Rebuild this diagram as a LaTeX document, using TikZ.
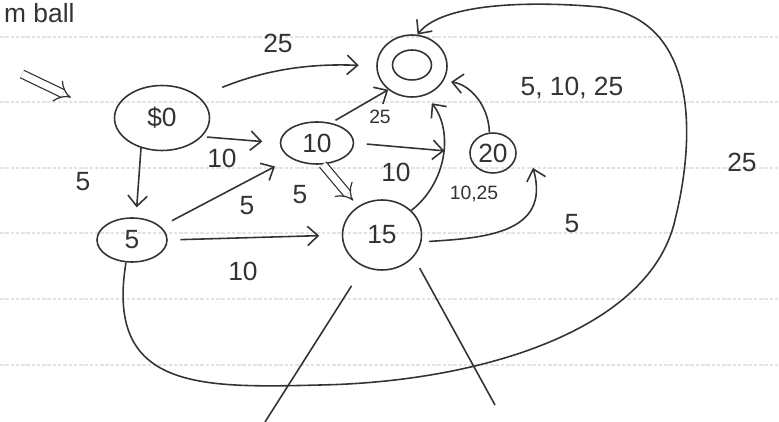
\documentclass[tikz,border=0pt]{standalone}
\usepackage{fontspec}
\setmainfont{Liberation Sans}
\usetikzlibrary{shapes,arrows.meta,positioning}

\begin{document}
\begin{tikzpicture}[
  x=0.02cm, y=-0.02cm,
  state/.style={ellipse, draw=black!80, line width=0.9pt, inner sep=0pt, font=\fontsize{15}{18}\selectfont, text=black!80},
  accept_state/.style={ellipse, draw=black!80, line width=0.9pt, inner sep=0pt},
  arrow/.style={-{Straight Barb[length=6pt,width=11pt]}, draw=black!80, line width=0.9pt},
  double_arrow/.style={-{Implies}, draw=black!80, double, double distance=4pt, line width=0.7pt},
  edge_label/.style={font=\fontsize{15}{18}\selectfont, text=black!80},
  small_label/.style={font=\fontsize{11}{13}\selectfont, text=black!80},
  paper_line/.style={draw=gray!22, line width=0.6pt, dash pattern=on 2pt off 1pt}
]
\useasboundingbox (0,0) rectangle (779,422);

% Ruled paper
\foreach \y in {37,102,168,233,299,365}
  \draw[paper_line] (0,\y) -- (779,\y);

% Title (cut off)
\node[edge_label, anchor=west] (title) at (-2,13) {m ball};

% States
\node[state, minimum width=1.9cm, minimum height=1.3cm] (s0) at (162,118) {\$0};
\node[state, minimum width=1.46cm, minimum height=0.84cm] (s10) at (317,143) {10};
\node[state, minimum width=1.4cm, minimum height=0.88cm] (s5) at (132,240) {5};
\node[state, minimum width=1.58cm, minimum height=1.4cm] (s15) at (382,235) {15};
\node[state, minimum width=0.92cm, minimum height=0.8cm] (s20) at (493,153) {20};
\node[accept_state, minimum width=1.4cm, minimum height=1.24cm] (acc) at (412,66) {};
\node[accept_state, minimum width=0.78cm, minimum height=0.6cm] (acc_in) at (412,65) {};

% Start arrow
\coordinate (start) at (22,74);
\draw[double_arrow, shorten >=0.95cm] (start) -- (s0.west);

% Transitions from $0
\draw[arrow, shorten >=0.2cm] (s0.-125) -- (s5.80);
\draw[arrow, shorten <=0.1cm, shorten >=0.35cm] (s0.-25) -- (s10.west);
\draw[arrow, shorten <=0.5cm, shorten >=0.35cm] (s0.30) to[bend left=12] (acc.west);

% Transitions from 5
\draw[arrow, shorten <=0.25cm, shorten >=0.35cm] (s5.25) -- (s10.-150);
\draw[arrow, shorten <=0.25cm, shorten >=0.45cm] (s5.east) -- (s15.west);
\draw[arrow] (s5.-105) .. controls (105,390) and (200,388) .. (320,385)
  .. controls (480,382) and (650,330) .. (675,220)
  .. controls (695,140) and (700,20) .. (600,7)
  .. controls (520,0) and (440,5) .. (acc.80);

% Transitions from 10
\draw[arrow, shorten <=0.1cm] (s10.55) -- (acc.-135);
\draw[arrow, shorten <=0.25cm, shorten >=0.5cm] (s10.east) -- (s20.west);
\draw[double_arrow, shorten >=0.15cm] (s10.-75) -- (s15.130);

% Transitions from 15
\draw[arrow, shorten >=0.2cm] (s15.40) to[bend right=45] (acc.-65);
\draw[arrow, shorten <=0.15cm] (s15.-10) .. controls (480,238) and (552,235)
  .. ([xshift=0.8cm, yshift=-0.3cm]s20.center);

% Transition from 20
\draw[arrow, shorten >=0.15cm] (s20.100) to[bend right=40] (acc.-25);

% Lines below 15
\coordinate (leg_l) at (265,422);
\coordinate (leg_r) at (495,405);
\draw[draw=black!80, line width=0.9pt, shorten <=0.45cm] (s15.-120) -- (leg_l);
\draw[draw=black!80, line width=0.9pt, shorten <=0.25cm] (s15.-35) -- (leg_r);

% Labels
\node[edge_label] (l_top) at (278,43) {25};
\node[small_label] (l_acc) at (380,117) {25};
\node[edge_label] (l_s0_s10) at (222,158) {10};
\node[edge_label] (l_s0_s5) at (83,182) {5};
\node[edge_label] (l_s5_s10) at (247,206) {5};
\node[edge_label] (l_s10_s15) at (300,195) {5};
\node[edge_label] (l_s5_s15) at (243,271) {10};
\node[edge_label] (l_s10_s20) at (396,172) {10};
\node[small_label] (l_s15_acc) at (474,194) {10,25};
\node[edge_label] (l_s20_acc) at (572,88) {5, 10, 25};
\node[edge_label] (l_s15_s20) at (572,224) {5};
\node[edge_label] (l_loop) at (742,162) {25};

\end{tikzpicture}
\end{document}
